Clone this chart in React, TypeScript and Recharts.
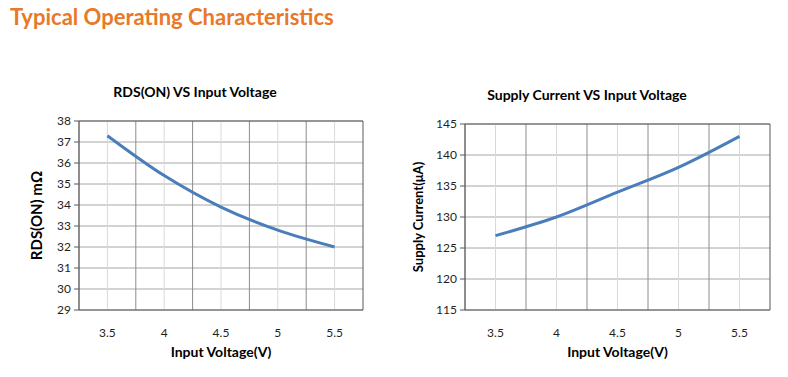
import { LineChart, Line, XAxis, YAxis, CartesianGrid, ReferenceLine } from 'recharts';

const voltages = [3.5, 4, 4.5, 5, 5.5];
const rdsOn = [37.3, 35.4, 33.9, 32.8, 32.0];
const supplyCurrent = [127, 130, 134, 138, 143];
const rdsTicks = [29, 30, 31, 32, 33, 34, 35, 36, 37, 38];
const currentTicks = [115, 120, 125, 130, 135, 140, 145];

const FONT = 'Lato, "Open Sans", sans-serif';
const BLUE = '#4a7ebb';
const TEXT = '#1f1f1f';

// excel-style category spacing: boundaries half a step either side of each voltage
const half = 0.25;
const boundaries = [voltages[0] - half, ...voltages.map(v => v + half)];

interface PanelProps {
  left: number;
  width: number;
  plotTop: number;
  plotLeft: number;
  plotRight: number;
  title: string;
  titleX: number;
  titleY: number;
  yLabel: string;
  yLabelX: number;
  yLabelSize: number;
  values: number[];
  yTicks: number[];
}

const Panel = ({ left, width, plotTop, plotLeft, plotRight, title, titleX, titleY, yLabel, yLabelX, yLabelSize, values, yTicks }: PanelProps) => {
  const data = voltages.map((v, i) => ({ v, y: values[i] }));
  const yMin = yTicks[0];
  const yMax = yTicks[yTicks.length - 1];
  const height = 377;
  const plotBottom = 310;
  return (
    <div style={{ position: 'absolute', left, top: 0, width, height }}>
      <div style={{ position: 'absolute', left: titleX - 150, width: 300, top: titleY - 10, textAlign: 'center', font: `bold 14px ${FONT}`, color: '#000', whiteSpace: 'nowrap' }}>
        {title}
      </div>
      <LineChart
        width={width}
        height={height}
        data={data}
        margin={{ top: plotTop, right: width - plotRight, bottom: 0, left: 0 }}
      >
        <CartesianGrid vertical={false} stroke="#a6a6a6" />
        {voltages.map(v => (
          <ReferenceLine key={'c' + v} x={v} stroke="#d9d9d9" />
        ))}
        {boundaries.map(b => (
          <ReferenceLine key={'b' + b} x={b} stroke={b === boundaries[boundaries.length - 1] ? '#595959' : '#8c8c8c'} />
        ))}
        <ReferenceLine y={yMax} stroke="#595959" />
        <XAxis
          dataKey="v"
          type="number"
          domain={[boundaries[0], boundaries[boundaries.length - 1]]}
          ticks={voltages}
          tickLine={false}
          axisLine={{ stroke: '#595959' }}
          tick={{ fill: TEXT, fontSize: 12, fontFamily: FONT }}
          tickMargin={12}
          height={height - plotBottom}
          label={{ value: 'Input Voltage(V)', position: 'insideBottom', offset: 20, fill: '#000', fontSize: 14, fontWeight: 'bold', fontFamily: FONT }}
        />
        <YAxis
          type="number"
          domain={[yMin, yMax]}
          ticks={yTicks}
          width={plotLeft}
          interval={0}
          tickLine={{ stroke: '#595959' }}
          tickSize={5}
          axisLine={{ stroke: '#595959' }}
          tick={{ fill: TEXT, fontSize: 12, fontFamily: FONT }}
          tickMargin={3}
          label={{ value: yLabel, angle: -90, position: 'insideLeft', offset: yLabelX, fill: '#000', fontSize: yLabelSize, fontWeight: 'bold', fontFamily: FONT, style: { textAnchor: 'middle' } }}
        />
        <Line type="monotone" dataKey="y" stroke={BLUE} strokeWidth={3} dot={false} isAnimationActive={false} />
      </LineChart>
    </div>
  );
};

const App = () => {
  return (
    <div style={{ position: 'absolute', left: 0, top: 0, width: 788, height: 377, background: '#fff', overflow: 'hidden' }}>
      <div style={{ position: 'absolute', left: 10, top: 3, font: `bold 22px ${FONT}`, color: '#e8782a' }}>
        Typical Operating Characteristics
      </div>
      <Panel
        left={0}
        width={394}
        plotTop={121}
        plotLeft={79}
        plotRight={363}
        title="RDS(ON) VS Input Voltage"
        titleX={195}
        titleY={93}
        yLabel="RDS(ON) mΩ"
        yLabelX={37}
        yLabelSize={15}
        values={rdsOn}
        yTicks={rdsTicks}
      />
      <Panel
        left={394}
        width={394}
        plotTop={124}
        plotLeft={71}
        plotRight={376}
        title="Supply Current VS Input Voltage"
        titleX={193}
        titleY={96}
        yLabel="Supply Current(μA)"
        yLabelX={24}
        yLabelSize={13}
        values={supplyCurrent}
        yTicks={currentTicks}
      />
    </div>
  );
};

export default App;
